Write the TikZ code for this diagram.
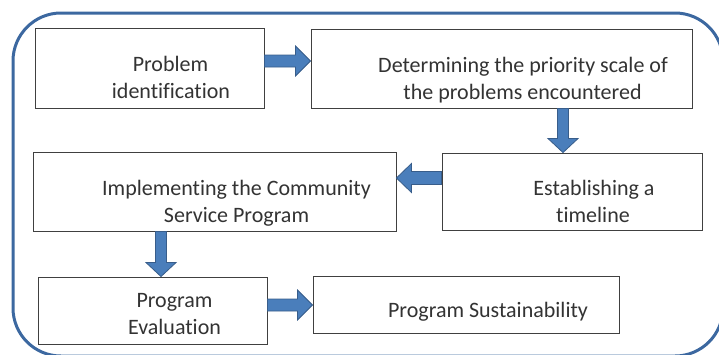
\documentclass[tikz,border=0pt]{standalone}
\usepackage{fontspec}
\setmainfont{Carlito}[Ligatures=NoCommon]
\usetikzlibrary{calc}
\definecolor{frameblue}{HTML}{3C68A0}
\definecolor{arrowfill}{HTML}{4A7EBB}
\definecolor{arrowedge}{HTML}{385D8A}
\definecolor{boxline}{HTML}{404040}
\definecolor{txt}{HTML}{333333}
\newcommand\RightBlock[2]{\draw[blockarrow] ($(#1)+(0,-6)$) -- ($(#2)+(-15,-6)$) -- ($(#2)+(-15,-15)$) -- (#2) -- ($(#2)+(-15,15)$) -- ($(#2)+(-15,6)$) -- ($(#1)+(0,6)$) -- cycle;}
\newcommand\LeftBlock[2]{\draw[blockarrow] ($(#1)+(0,-6.5)$) -- ($(#2)+(15,-6.5)$) -- ($(#2)+(15,-14.5)$) -- (#2) -- ($(#2)+(15,14.5)$) -- ($(#2)+(15,6.5)$) -- ($(#1)+(0,6.5)$) -- cycle;}
\newcommand\DownBlock[2]{\draw[blockarrow] ($(#1)+(-5.5,0)$) -- ($(#2)+(-5.5,-14)$) -- ($(#2)+(-15,-14)$) -- (#2) -- ($(#2)+(15,-14)$) -- ($(#2)+(5.5,-14)$) -- ($(#1)+(5.5,0)$) -- cycle;}
\begin{document}
\begin{tikzpicture}[x=1pt,y=-1pt,
  box/.style={draw=boxline, line width=0.9pt, fill=white, inner sep=0pt},
  lbl/.style={font=\fontsize{22}{27}\selectfont, text=txt, anchor=base, inner sep=0pt},
  blockarrow/.style={draw=arrowedge, fill=arrowfill, line width=0.8pt, line join=miter}]
\useasboundingbox (0,0) rectangle (719,354);
\clip (0,0) rectangle (719,354);
\draw[frameblue, line width=3pt, rounded corners=48pt] (13,13) rectangle (723,356);
% boxes
\node[box, minimum width=229pt, minimum height=80pt] (b1) at (149.5,68) {};
\node[box, minimum width=381pt, minimum height=79pt] (b2) at (501.5,68.5) {};
\node[box, minimum width=260pt, minimum height=77pt] (b3) at (572,191.5) {};
\node[box, minimum width=363pt, minimum height=79pt] (b4) at (214.5,191.5) {};
\node[box, minimum width=229pt, minimum height=67pt] (b5) at (152.5,310.5) {};
\node[box, minimum width=306pt, minimum height=57pt] (b6) at (466,304.5) {};
% texts
\node[lbl] (t1a) at (170.5,71) {Problem};
\node[lbl] (t1b) at (171,98) {identification};
\node[lbl] (t2a) at (523,72) {Determining the priority scale of};
\node[lbl] (t2b) at (522.5,99) {the problems encountered};
\node[lbl] (t3a) at (594,195) {Establishing a};
\node[lbl] (t3b) at (593,222) {timeline};
\node[lbl] (t4a) at (236.5,195) {Implementing the Community};
\node[lbl] (t4b) at (236.5,222) {Service Program};
\node[lbl] (t5a) at (174.5,307) {Program};
\node[lbl] (t5b) at (174.5,334) {Evaluation};
\node[lbl] (t6) at (488,317) {Program Sustainability};
% arrow end points
\coordinate (a1s) at (b1.east |- 0,61);
\coordinate (a1e) at (b2.west |- 0,61);
\coordinate (a2s) at (563,0 |- b2.south);
\coordinate (a2e) at (563,0 |- b3.north);
\coordinate (a3s) at (b3.west |- 0,178);
\coordinate (a3e) at (b4.east |- 0,178);
\coordinate (a4s) at (161,0 |- b4.south);
\coordinate (a4e) at (161,0 |- b5.north);
\coordinate (a5s) at (b5.east |- 0,305);
\coordinate (a5e) at (b6.west |- 0,305);
\RightBlock{a1s}{a1e}
\DownBlock{a2s}{a2e}
\LeftBlock{a3s}{a3e}
\DownBlock{a4s}{a4e}
\RightBlock{a5s}{a5e}
\end{tikzpicture}
\end{document}
